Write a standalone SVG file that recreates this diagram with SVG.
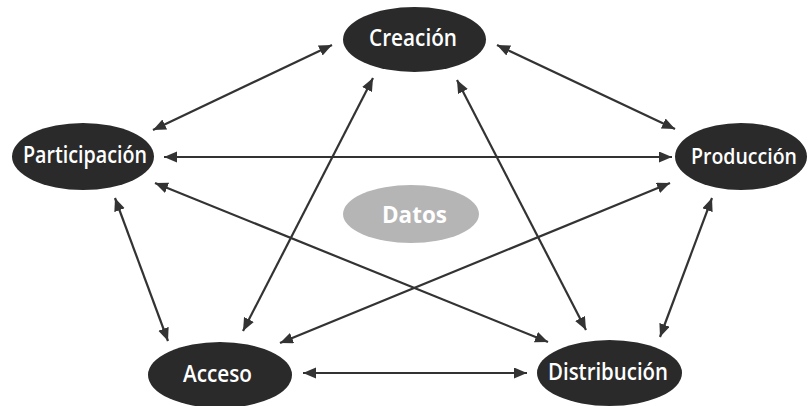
<svg xmlns="http://www.w3.org/2000/svg" width="809" height="406" viewBox="0 0 809 406">
<defs>
<style>
.node ellipse{fill:#2a2a2a;}
.node text{fill:#ffffff;font-family:"Open Sans","Noto Sans",sans-serif;font-weight:600;font-size:24px;text-anchor:middle;}
#produccion text{font-size:22px;}
#datos ellipse{fill:#b5b5b5;}
#datos text{font-weight:700;}
.conn line{stroke:#333333;stroke-width:2.2;marker-start:url(#ah);marker-end:url(#ah);}
</style>
<marker id="ah" markerUnits="userSpaceOnUse" markerWidth="14" markerHeight="12" refX="13" refY="5.5" orient="auto-start-reverse">
<path d="M0,0 L13,5.5 L0,11 z" fill="#333333"/>
</marker>
</defs>
<rect width="809" height="406" fill="#ffffff"/>
<g class="conn">
<line x1="332" y1="45" x2="153" y2="130"/>
<line x1="497" y1="45" x2="675" y2="129"/>
<line x1="164" y1="157" x2="672" y2="157"/>
<line x1="155" y1="183" x2="548" y2="342"/>
<line x1="115" y1="198" x2="168" y2="341"/>
<line x1="373" y1="78" x2="243" y2="331"/>
<line x1="457" y1="80" x2="586" y2="330"/>
<line x1="670" y1="183" x2="280" y2="343"/>
<line x1="712" y1="198" x2="660" y2="337"/>
<line x1="303" y1="373" x2="527" y2="373"/>
</g>
<g id="creacion" class="node">
<ellipse cx="414.5" cy="39.5" rx="71.5" ry="32.5"/>
<text x="413" y="46" textLength="88" lengthAdjust="spacingAndGlyphs">Creación</text>
</g>
<g id="participacion" class="node">
<ellipse cx="83" cy="156.5" rx="71" ry="33.5"/>
<text x="85" y="163" textLength="124" lengthAdjust="spacingAndGlyphs">Participación</text>
</g>
<g id="produccion" class="node">
<ellipse cx="741" cy="156.5" rx="66" ry="33.5"/>
<text x="744" y="163.5" textLength="106" lengthAdjust="spacingAndGlyphs">Producción</text>
</g>
<g id="acceso" class="node">
<ellipse cx="220" cy="375" rx="72" ry="33"/>
<text x="217.5" y="382" textLength="69" lengthAdjust="spacingAndGlyphs">Acceso</text>
</g>
<g id="distribucion" class="node">
<ellipse cx="609.5" cy="373" rx="72.5" ry="33"/>
<text x="608" y="380" textLength="120" lengthAdjust="spacingAndGlyphs">Distribución</text>
</g>
<g id="datos" class="node">
<ellipse cx="411" cy="214" rx="68" ry="29"/>
<text x="414.5" y="223" textLength="65" lengthAdjust="spacingAndGlyphs">Datos</text>
</g>
</svg>
